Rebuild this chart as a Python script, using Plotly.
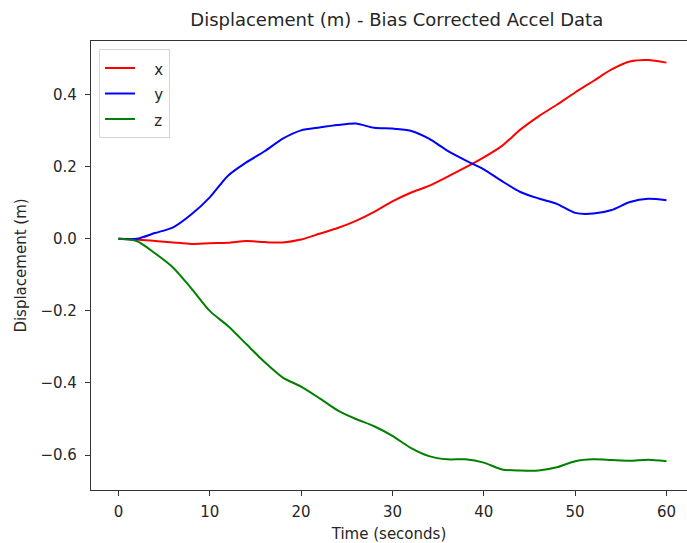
import plotly.graph_objects as go

# Data
time_s = [0, 2, 4, 6, 8, 10, 12, 14, 16, 18, 20, 22, 24, 26, 28, 30,
          32, 34, 36, 38, 40, 42, 44, 46, 48, 50, 52, 54, 56, 58, 60]

disp_x = [0.000, -0.002, -0.006, -0.010, -0.014, -0.012, -0.011, -0.006, -0.009, -0.010,
          -0.002, 0.014, 0.030, 0.050, 0.075, 0.104, 0.128, 0.147, 0.172, 0.198,
          0.226, 0.258, 0.303, 0.340, 0.372, 0.406, 0.438, 0.470, 0.492, 0.496, 0.489]

disp_y = [0.000, 0.000, 0.016, 0.032, 0.068, 0.115, 0.175, 0.212, 0.243, 0.278,
          0.301, 0.309, 0.316, 0.320, 0.308, 0.306, 0.300, 0.278, 0.245, 0.218,
          0.193, 0.160, 0.130, 0.112, 0.097, 0.072, 0.070, 0.080, 0.102, 0.111, 0.107]

disp_z = [0.000, -0.006, -0.040, -0.080, -0.138, -0.200, -0.242, -0.292, -0.342, -0.385,
          -0.410, -0.442, -0.476, -0.500, -0.520, -0.547, -0.580, -0.603, -0.612, -0.612,
          -0.621, -0.640, -0.643, -0.643, -0.634, -0.617, -0.612, -0.614, -0.616, -0.613, -0.617]

series_names = ["x", "y", "z"]
series_colors = ["#ff0000", "#0000ff", "#008000"]

x_ticks = [0, 10, 20, 30, 40, 50, 60]
y_ticks = [-0.6, -0.4, -0.2, 0.0, 0.2, 0.4]
y_tick_text = ["\u22120.6", "\u22120.4", "\u22120.2", "0.0", "0.2", "0.4"]

FONT = "DejaVu Sans, Liberation Sans, sans-serif"
TXT = "#262626"

fig = go.Figure()
for name, vals, col in zip(series_names, [disp_x, disp_y, disp_z], series_colors):
    fig.add_trace(go.Scatter(
        x=time_s, y=vals, mode="lines",
        name=f'<span style="font-size:15px">&nbsp;&nbsp;&nbsp;{name}</span>',
        line=dict(color=col, width=2, shape="spline", smoothing=0.7),
    ))

fig.update_layout(
    width=687, height=543,
    paper_bgcolor="white", plot_bgcolor="white",
    margin=dict(l=91, r=0, t=41, b=53, autoexpand=False),
    font=dict(family=FONT, size=15, color=TXT),
    title=dict(text="Displacement (m) - Bias Corrected Accel Data",
               x=0.513, xref="paper", xanchor="center",
               y=1, yref="container", yanchor="top", pad=dict(t=13),
               font=dict(family=FONT, size=18, color=TXT)),
    showlegend=True,
    legend=dict(x=0.0134, y=0.9815, xanchor="left", yanchor="top",
                bgcolor="rgba(255,255,255,0.8)", bordercolor="#d6d6d6", borderwidth=1,
                font=dict(family=FONT, size=17.3, color=TXT)),
    xaxis=dict(range=[-3, 62.25], tickvals=x_ticks, ticks="outside", ticklen=5,
               ticklabelstandoff=3,
               tickcolor="#333", showline=True, linecolor="#333", linewidth=1.3,
               mirror=True, showgrid=False, zeroline=False, automargin=False,
               title=dict(text="Time (seconds)", standoff=8,
                          font=dict(family=FONT, size=15, color=TXT))),
    yaxis=dict(range=[-0.697, 0.549], tickvals=y_ticks, ticktext=y_tick_text,
               ticks="outside", ticklen=5, ticklabelstandoff=5, tickcolor="#333",
               showline=True, linecolor="#333", linewidth=1.3,
               showgrid=False, zeroline=False, automargin=False,
               title=dict(text="Displacement (m)", standoff=10,
                          font=dict(family=FONT, size=15, color=TXT))),
)

fig.write_html("out.html", config={"displayModeBar": False},
               post_script="document.body.style.margin='0';document.body.style.overflow='hidden';")
